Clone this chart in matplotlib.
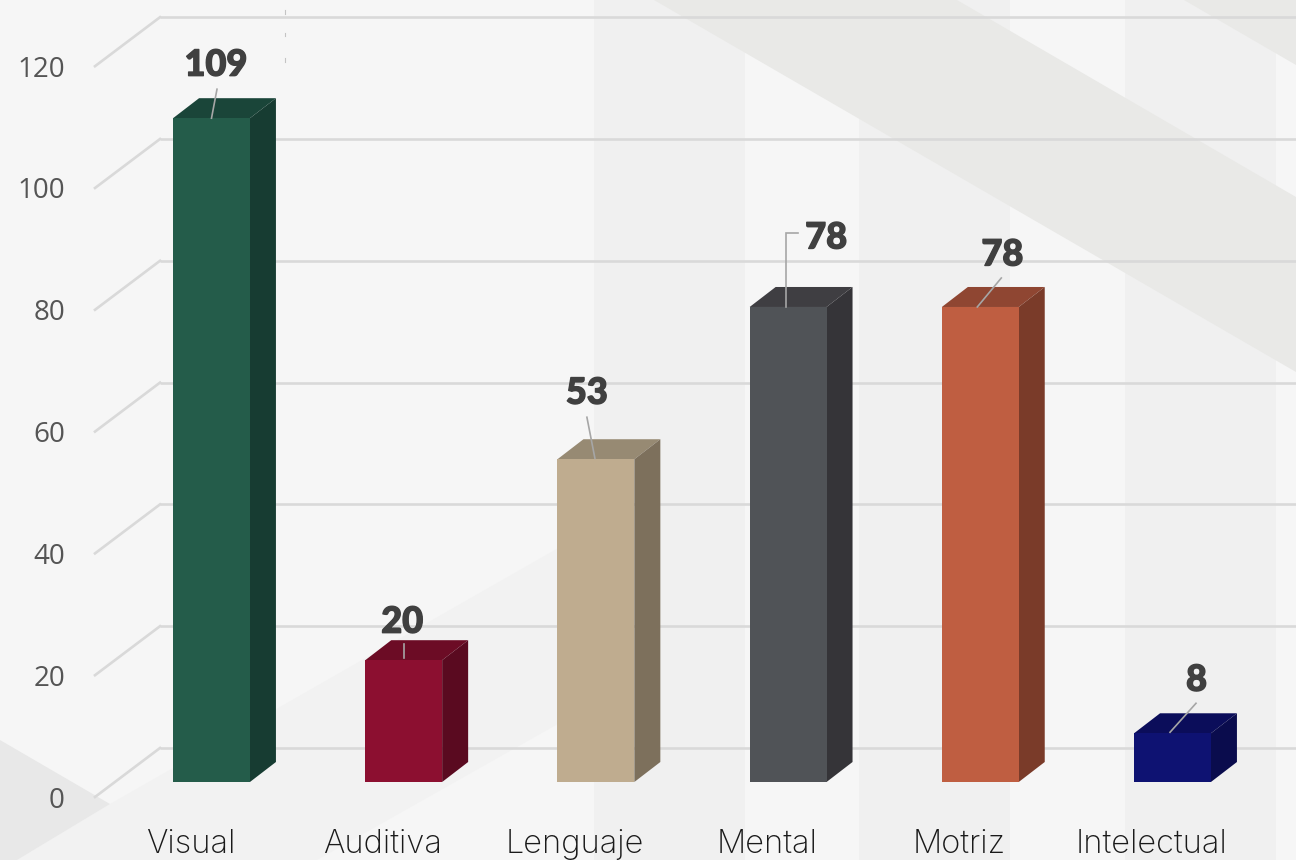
import matplotlib
matplotlib.use('Agg')
import matplotlib.pyplot as plt
import matplotlib.patheffects as pe
from matplotlib.patches import Polygon

categories = ['Visual', 'Auditiva', 'Lenguaje', 'Mental', 'Motriz', 'Intelectual']
values = [109, 20, 53, 78, 78, 8]
yticks = [0, 20, 40, 60, 80, 100, 120]

front_colors = ['#245c4a', '#8c0f30', '#bfac8f', '#505357', '#bf5e41', '#0e1272']
top_colors = ['#1a4539', '#6c0c25', '#978a73', '#3f3e42', '#8f4632', '#0b0d5a']
side_colors = ['#173c32', '#5a0a20', '#7d705c', '#353438', '#7a3b29', '#0a0c4d']

# pixel layout of the picture
W, H = 1296, 860
PX_X = 192.2   # pixels per category
PX_Y = 6.09    # pixels per unit
X0 = 211.5     # pixel x of first bar centre
Y0 = 782       # pixel y of value 0 at the bar front
BAR_W = 0.40
DEPTH_X = 26 / PX_X
DEPTH_Y = 20 / PX_Y
GRID_LIFT = 34 / PX_Y   # back wall sits above the bar base
AXIS_DROP = 15 / PX_Y   # front of the wall / tick labels sit below it

# value label offsets from bar centre/top, in pixels (x right, y up)
label_offsets = [(4.5, 53), (-1.5, 38), (-9, 66), (38, 69), (22, 52), (24, 53)]
# leader lines, pixels from bar centre/top
leaders = [
    [(0, 0), (5.5, 29)],
    [(0, 2), (0, 16)],
    [(-1, 1), (-9, 42)],
    [(-2, 0), (-2, 74), (10, 74)],
    [(-3, 0), (21, 29)],
    [(-2.5, 1), (23.5, 30)],
]

plt.rcParams['font.family'] = ['Open Sans', 'DejaVu Sans']
fig = plt.figure(figsize=(W / 100, H / 100), dpi=100, facecolor='#f6f6f6')

# background shapes, drawn in pixels
bg = fig.add_axes([0, 0, 1, 1], zorder=0)
bg.set_xlim(0, W)
bg.set_ylim(H, 0)
bg.axis('off')
for x0, x1 in [(594, 745), (859, 1010), (1125, 1276)]:
    bg.fill_between([x0, x1], 0, H, color='#f0f0f0', lw=0)
bg.add_patch(Polygon([(17, 860), (110, 804), (595, 527), (595, 703), (317, 860)],
                     fc='#f2f2f2', ec='none'))
bg.add_patch(Polygon([(0, 740), (110, 804), (17, 860), (0, 860)], fc='#e8e8e8', ec='none'))
bg.add_patch(Polygon([(654, 0), (957, 0), (1296, 197), (1296, 372)], fc='#e9e9e7', ec='none'))
bg.add_patch(Polygon([(1184, 0), (1296, 0), (1296, 65)], fc='#e9e9e7', ec='none'))
for y0, y1 in [(10, 14), (33, 36), (58, 62)]:
    bg.plot([285, 285], [y0, y1], color='#c4c4c4', lw=0.8)

ax = fig.add_axes([0, 0, 1, 1], zorder=1)
ax.patch.set_alpha(0)
ax.set_xlim(-X0 / PX_X, (W - X0) / PX_X)
ax.set_ylim((Y0 - H) / PX_Y, Y0 / PX_Y)
ax.axis('off')

# back wall grid and the slanted side wall
grid_x0 = (160 - X0) / PX_X
wall_x0 = (95 - X0) / PX_X
for t in yticks:
    ax.plot([grid_x0, ax.get_xlim()[1]], [t + GRID_LIFT] * 2, color='#d9d9d9',
            lw=1.9, solid_capstyle='butt', zorder=1)
    ax.plot([wall_x0, grid_x0], [t - AXIS_DROP, t + GRID_LIFT], color='#d9d9d9',
            lw=1.9, zorder=1)
    ax.text(wall_x0 - 30 / PX_X, t - AXIS_DROP, str(t), ha='right', va='center_baseline',
            fontsize=20, color='#555555', zorder=5)

xs = range(len(values))
ax.bar(xs, values, width=BAR_W, color=front_colors, linewidth=0, zorder=3)
for i, v in zip(xs, values):
    r = i + BAR_W / 2
    l = i - BAR_W / 2
    ax.add_patch(Polygon([(l, v), (r, v), (r + DEPTH_X, v + DEPTH_Y), (l + DEPTH_X, v + DEPTH_Y)],
                         fc=top_colors[i], ec='none', zorder=2))
    ax.add_patch(Polygon([(r, 0), (r + DEPTH_X, DEPTH_Y), (r + DEPTH_X, v + DEPTH_Y), (r, v)],
                         fc=side_colors[i], ec='none', zorder=2))
    px = [i + p[0] / PX_X for p in leaders[i]]
    py = [v + p[1] / PX_Y for p in leaders[i]]
    ax.plot(px, py, color='#a6a6a6', lw=1.2, zorder=4, solid_joinstyle='miter')
    ox, oy = label_offsets[i]
    ax.text(i + ox / PX_X, v + oy / PX_Y, str(v), ha='center', va='center',
            fontsize=26, family=['Lato', 'DejaVu Sans'], fontweight='black',
            color='#404040', zorder=5,
            path_effects=[pe.withStroke(linewidth=1.0, foreground='#404040')])
    ax.text(i - 0.108, (Y0 - 853) / PX_Y, categories[i], ha='center', va='baseline',
            fontsize=23.5, family=['Inter', 'DejaVu Sans'], fontweight='light',
            color='#1a1a1a', zorder=5)

fig.savefig('out.png', dpi=100, facecolor=fig.get_facecolor())
